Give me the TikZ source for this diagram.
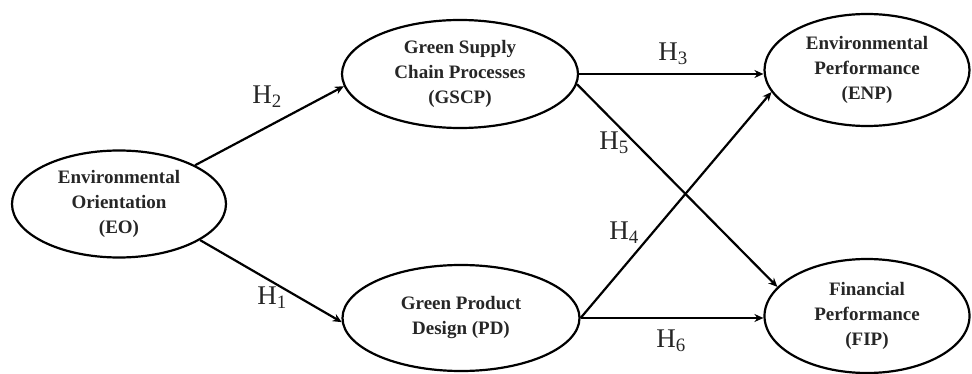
\documentclass[tikz,border=0pt]{standalone}
\usepackage{fontspec}
\setmainfont{Liberation Serif}
\usetikzlibrary{shapes.geometric,arrows.meta}
\begin{document}
\begin{tikzpicture}[x=1pt,y=-1pt,
  construct/.style={draw, line width=2.2pt, ellipse, inner sep=0pt, align=center,
    font=\fontsize{19}{25}\selectfont\bfseries, text=black!85},
  link/.style={line width=2.2pt, -{Stealth[length=9pt,width=8pt]}},
  hyp/.style={font=\fontsize{27}{28}\selectfont, text=black!85, inner sep=0pt}]
\useasboundingbox (0,0) rectangle (972,374);
\node[construct, minimum width=214pt, minimum height=107pt] (EO) at (119,204) {Environmental\\Orientation\\(EO)};
\node[construct, minimum width=236pt, minimum height=108pt] (GSCP) at (460,74) {Green Supply\\Chain Processes\\(GSCP)};
\node[construct, minimum width=237pt, minimum height=106pt] (PD) at (461,318) {Green Product\\Design (PD)};
\node[construct, minimum width=205pt, minimum height=112pt] (ENP) at (867,70) {Environmental\\Performance\\(ENP)};
\node[construct, minimum width=205pt, minimum height=114pt] (FIP) at (867,316) {Financial\\Performance\\(FIP)};
\draw[link] (EO.27) -- (GSCP.186);
\draw[link] (EO.-24) -- (PD.182);
\draw[link] (GSCP.east) -- (ENP.west |- GSCP.east);
\draw[link] (GSCP.-5) -- (FIP.162);
\draw[link] (PD.east) -- (ENP.193);
\draw[link] (PD.east) -- (FIP.west |- PD.east);
\node[hyp] (h2) at (267,97) {H\textsubscript{2}};
\node[hyp] (h1) at (272,298) {H\textsubscript{1}};
\node[hyp] (h3) at (673,54) {H\textsubscript{3}};
\node[hyp] (h5) at (614,143) {H\textsubscript{5}};
\node[hyp] (h4) at (624,233) {H\textsubscript{4}};
\node[hyp] (h6) at (671,341) {H\textsubscript{6}};
\end{tikzpicture}
\end{document}
